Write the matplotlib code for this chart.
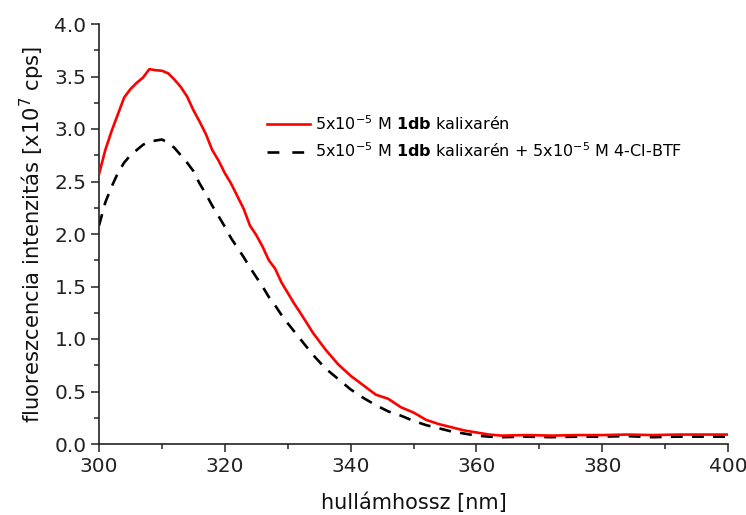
import matplotlib
matplotlib.use("Agg")
import matplotlib.pyplot as plt
from matplotlib.ticker import MultipleLocator, FormatStrFormatter

plt.rcParams['font.family'] = ['DejaVu Sans']
plt.rcParams['mathtext.fontset'] = 'custom'
plt.rcParams['mathtext.rm'] = 'DejaVu Sans'
plt.rcParams['mathtext.bf'] = 'DejaVu Sans:bold'
plt.rcParams['mathtext.it'] = 'DejaVu Sans:italic'

# Emission spectrum of 1db calixarene alone
wl_host = [300, 301, 302, 303, 304, 305, 306, 307, 308, 309, 310, 311, 312, 313,
           314, 315, 316, 317, 318, 319, 320, 321, 322, 323, 324, 325, 326, 327,
           328, 329, 330, 331, 332, 334, 336, 338, 340, 342, 344, 346, 348, 350,
           352, 354, 356, 358, 360, 362, 364, 368, 372, 376, 380, 384, 388, 392,
           396, 400]
int_host = [2.57, 2.80, 2.98, 3.14, 3.30, 3.38, 3.44, 3.49, 3.57, 3.56, 3.555,
            3.53, 3.47, 3.40, 3.31, 3.18, 3.07, 2.95, 2.80, 2.70, 2.58, 2.48,
            2.36, 2.24, 2.08, 1.99, 1.88, 1.75, 1.67, 1.54, 1.44, 1.34, 1.25,
            1.06, 0.90, 0.76, 0.65, 0.56, 0.47, 0.43, 0.35, 0.30, 0.23, 0.19,
            0.16, 0.13, 0.11, 0.09, 0.08, 0.085, 0.08, 0.085, 0.085, 0.09,
            0.085, 0.09, 0.09, 0.09]

# Emission spectrum of 1db calixarene + 4-Cl-BTF
wl_complex = [300, 301, 302, 303, 304, 305, 306, 307, 308, 309, 310, 311, 312,
              313, 314, 315, 316, 317, 318, 319, 320, 321, 322, 323, 324, 325,
              326, 327, 328, 329, 330, 332, 334, 336, 338, 340, 342, 344, 346,
              348, 350, 352, 354, 356, 358, 360, 362, 364, 368, 372, 376, 380,
              384, 388, 392, 396, 400]
int_complex = [2.08, 2.30, 2.45, 2.58, 2.68, 2.75, 2.80, 2.85, 2.88, 2.89, 2.90,
               2.87, 2.82, 2.75, 2.68, 2.60, 2.48, 2.38, 2.27, 2.17, 2.07, 1.96,
               1.87, 1.78, 1.68, 1.59, 1.50, 1.40, 1.32, 1.23, 1.15, 1.00, 0.85,
               0.72, 0.62, 0.52, 0.44, 0.37, 0.31, 0.27, 0.22, 0.18, 0.15, 0.12,
               0.10, 0.08, 0.07, 0.065, 0.07, 0.065, 0.07, 0.07, 0.075, 0.065,
               0.07, 0.07, 0.07]

label_host = r"5x10$^{-5}$ M $\mathbf{1db}$ kalixarén"
label_complex = r"5x10$^{-5}$ M $\mathbf{1db}$ kalixarén + 5x10$^{-5}$ M 4-Cl-BTF"

fig = plt.figure(figsize=(7.46, 5.15), dpi=100)
ax = fig.add_axes([99 / 746, 71 / 515, 629 / 746, 420 / 515])

ax.plot(wl_complex, int_complex, color='black', lw=1.9, dashes=(4.5, 3.5),
        label=label_complex, zorder=2)
ax.plot(wl_host, int_host, color='#ff0000', lw=1.9, label=label_host, zorder=3)

ax.set_xlim(300, 400)
ax.set_ylim(0, 4.0)
ax.xaxis.set_major_locator(MultipleLocator(20))
ax.xaxis.set_minor_locator(MultipleLocator(10))
ax.yaxis.set_major_locator(MultipleLocator(0.5))
ax.yaxis.set_minor_locator(MultipleLocator(0.25))
ax.yaxis.set_major_formatter(FormatStrFormatter('%.1f'))

for side in ('top', 'right'):
    ax.spines[side].set_visible(False)
for side in ('left', 'bottom'):
    ax.spines[side].set_linewidth(1.2)
    ax.spines[side].set_color('#222222')

ax.tick_params(which='major', direction='out', length=6, width=1.1,
               labelsize=14.5, colors='#222222', pad=3)
ax.tick_params(which='minor', direction='out', length=3.5, width=1.1,
               colors='#222222')

ax.set_xlabel("hullámhossz [nm]", fontsize=15, labelpad=12, color='#111111')
ax.set_ylabel("fluoreszcencia intenzitás [x10$^7$ cps]", fontsize=15.2,
              labelpad=5, color='#111111')

handles, labels = ax.get_legend_handles_labels()
leg = ax.legend(handles[::-1], labels[::-1], loc='upper left',
                bbox_to_anchor=(0.244, 0.82), frameon=False,
                fontsize=11.5, handlelength=2.7, handletextpad=0.3,
                labelspacing=0.55)
# two whole dashes in the legend sample
leg.get_lines()[1].set_dashes((4.5, 4.9))

fig.savefig("out.png", dpi=100, facecolor='white')
